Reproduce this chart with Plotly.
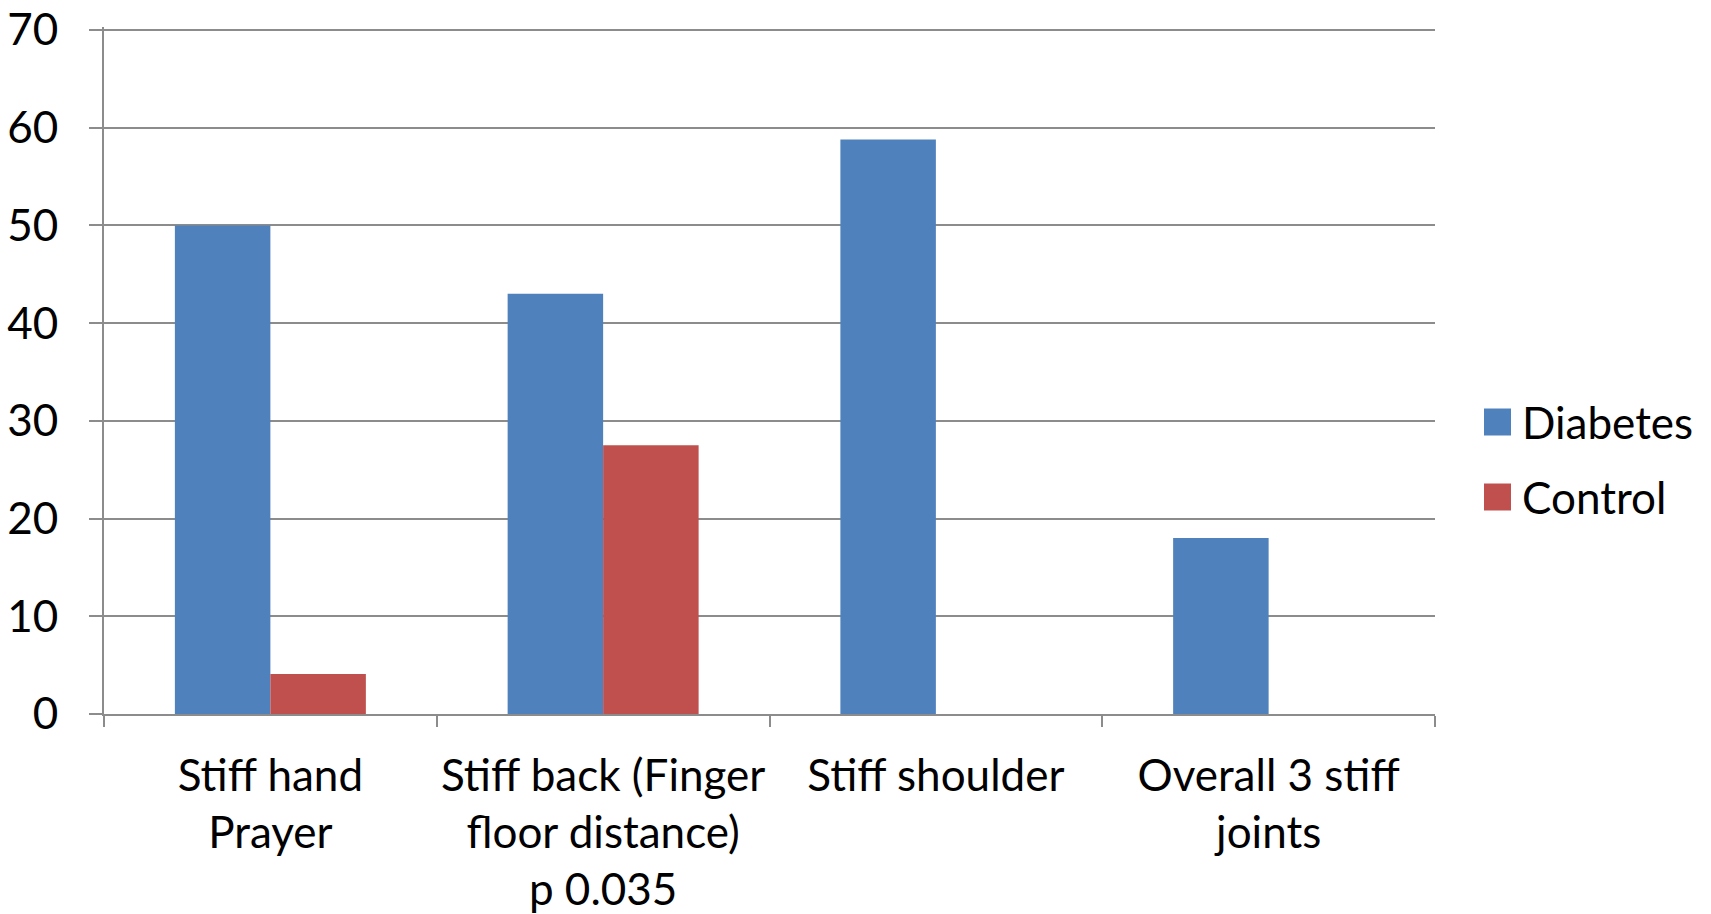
import plotly.graph_objects as go

categories = ["Stiff hand<br>Prayer", "Stiff back (Finger<br>floor distance)<br>p 0.035",
              "Stiff shoulder", "Overall 3 stiff<br>joints"]
diabetes = [50, 43, 58.8, 18]
control = [4.1, 27.5, 0, 0]
y_ticks = [0, 10, 20, 30, 40, 50, 60, 70]
series_names = ["Diabetes", "Control"]
colors = ["#4F81BD", "#C0504D"]

FONT = "Lato"
FS = 44
W, H = 1711, 914
# plot area in page pixels: x 104..1435, y 27..714 (70 gridline at ~30)
L, T = 104, 27
R = W - 1435
B = H - 714

fig = go.Figure()
fig.add_trace(go.Bar(x=categories, y=diabetes, name=series_names[0],
                     marker=dict(color=colors[0], line=dict(width=0)), showlegend=False))
fig.add_trace(go.Bar(x=categories, y=control, name=series_names[1],
                     marker=dict(color=colors[1], line=dict(width=0)), showlegend=False))

pw = W - L - R
ph = H - T - B
def px_x(px):
    return (px - L) / pw
def px_y(py):
    return (H - B - py) / ph

# manual legend
leg_y = [422, 497]
for name, col, cy in zip(series_names, colors, leg_y):
    fig.add_shape(type="rect", xref="paper", yref="paper",
                  x0=px_x(1484), x1=px_x(1511), y0=px_y(cy + 13.5), y1=px_y(cy - 13.5),
                  fillcolor=col, line=dict(width=0))
    fig.add_annotation(xref="paper", yref="paper", x=px_x(1520), y=px_y(cy),
                       xanchor="left", yanchor="middle", text=name, showarrow=False,
                       font=dict(family=FONT, size=FS, color="black"))

fig.update_layout(
    width=W, height=H,
    margin=dict(l=L, r=R, t=T, b=B, autoexpand=False),
    paper_bgcolor="white", plot_bgcolor="white",
    barmode="group", bargap=0.426, bargroupgap=0,
    font=dict(family=FONT, size=FS, color="black"),
    showlegend=False,
)
fig.update_xaxes(
    type="category", tickson="boundaries", ticks="outside", ticklen=11,
    tickcolor="#8c8c8c", tickwidth=2, showgrid=False, automargin=False, tickangle=0,
    showline=True, linecolor="#8c8c8c", linewidth=2, ticklabelstandoff=22,
    ticklabeloverflow="allow",
    tickfont=dict(family=FONT, size=FS, color="black"),
)
fig.update_yaxes(
    range=[0, 70.3], tickvals=y_ticks, ticktext=[str(v) for v in y_ticks],
    ticks="outside", ticklen=13, ticklabeloverflow="allow",
    tickcolor="#8c8c8c", tickwidth=2, automargin=False,
    showgrid=True, gridcolor="#8c8c8c", gridwidth=2, ticklabelstandoff=22,
    showline=True, linecolor="#8c8c8c", linewidth=2, zeroline=False,
    tickfont=dict(family=FONT, size=FS, color="black"),
)

fig.write_html("out.html", config={"displayModeBar": False},
               post_script="document.body.style.margin='0';document.body.style.overflow='hidden';")
